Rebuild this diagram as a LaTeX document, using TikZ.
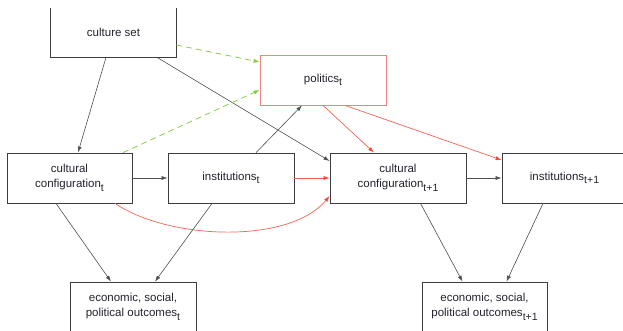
\documentclass[tikz,border=0pt]{standalone}
\usepackage{fontspec}
\setmainfont{Liberation Sans}
\usetikzlibrary{arrows.meta}
\newcommand{\mysub}[1]{\raisebox{-0.55ex}{\fontsize{10.5}{10.5}\selectfont #1}}
\definecolor{boxgray}{RGB}{60,60,60}
\definecolor{polred}{RGB}{242,130,130}
\definecolor{arrred}{RGB}{250,70,55}
\definecolor{dgreen}{RGB}{130,200,60}
\definecolor{txt}{RGB}{35,35,45}
\tikzset{
  box/.style={draw=boxgray, line width=0.8pt, minimum height=50pt, align=center, inner sep=0pt, text=txt, font=\fontsize{11.5}{15}\selectfont},
  blk/.style={draw=boxgray!90, line width=0.6pt, -{Latex[length=6pt,width=4pt]}},
  redarr/.style={draw=arrred!85, line width=0.7pt, -{Latex[length=6pt,width=4pt,fill=arrred,color=arrred]}},
  grn/.style={draw=dgreen, line width=0.7pt, dash pattern=on 6pt off 4pt, -{Latex[length=6pt,width=4pt]}},
}
\begin{document}
\begin{tikzpicture}[x=1pt,y=-1pt]
\clip (0,0) rectangle (623,331);
\fill[white] (0,0) rectangle (623,331);
\node[box, draw=none, minimum width=125pt, minimum height=49pt] (cs) at (113.5,32.5) {culture set};
\draw[boxgray, line width=0.8pt] (cs.north west) -- (cs.south west) -- (cs.south east) -- (cs.north east);
\node[box, draw=polred, minimum width=126pt] (pol) at (323,80) {politics\mysub{t}};
\node[box, minimum width=125pt] (cct) at (69.5,178) {cultural\\configuration\mysub{t}};
\node[box, minimum width=126pt] (it) at (231,178) {institutions\mysub{t}};
\node[box, minimum width=136pt] (cc1) at (398,178) {cultural\\configuration\mysub{t+1}};
\node[box, minimum width=125pt] (i1) at (564.5,178) {institutions\mysub{t+1}};
\node[box, minimum width=126pt] (ot) at (133,307) {economic, social,\\political outcomes\mysub{t}};
\node[box, minimum width=125pt] (o1) at (484.5,307) {economic, social,\\political outcomes\mysub{t+1}};

\draw[blk] ([xshift=-7.5pt]cs.south) -- ([xshift=8.5pt]cct.north);
\draw[blk] ([xshift=43.5pt]cs.south) -- ([yshift=17pt]cc1.west);
\draw[grn] ([yshift=-12.5pt]cs.east) -- ([yshift=18pt]pol.west);
\draw[grn] ([xshift=53.5pt]cct.north) -- ([yshift=-10pt]pol.west);
\draw[blk] (cct.east) -- (it.west);
\draw[blk] ([xshift=25pt]it.north) -- ([xshift=-21pt]pol.south);
\draw[redarr] (it.east) -- (cc1.west);
\draw[redarr] ([xshift=45.5pt]cct.south) .. controls +(55,37) and +(-40,48) .. ([yshift=-18pt]cc1.west);
\draw[redarr] (pol.south) -- ([xshift=-24pt]cc1.north);
\draw[redarr] ([xshift=22pt]pol.south) -- ([yshift=18pt]i1.west);
\draw[blk] (cc1.east) -- (i1.west);
\draw[blk] ([xshift=-13.5pt]cct.south) -- ([xshift=-22pt]ot.north);
\draw[blk] ([xshift=-19pt]it.south) -- ([xshift=22pt]ot.north);
\draw[blk] ([xshift=22.5pt]cc1.south) -- ([xshift=-22pt]o1.north);
\draw[blk] ([xshift=-21.5pt]i1.south) -- ([xshift=22pt]o1.north);
\end{tikzpicture}
\end{document}
